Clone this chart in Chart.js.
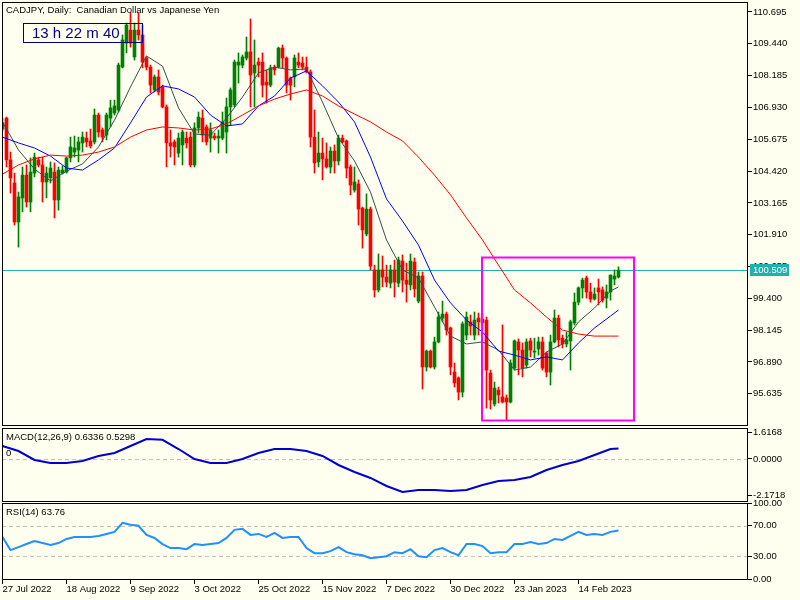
<!DOCTYPE html>
<html>
<head>
<meta charset="utf-8">
<title>CADJPY, Daily</title>
<script src="https://cdn.jsdelivr.net/npm/chart.js@4.4.1/dist/chart.umd.min.js"></script>
<style>
  html, body { margin: 0; padding: 0; background: #fffff0; }
  #wrap { position: relative; width: 800px; height: 600px; overflow: hidden; background: #fffff0; }
  #wrap canvas { position: absolute; left: 0; top: 0; }
  .txt { position: absolute; font: 9.5px "Liberation Sans", Arial, sans-serif; color: #000; white-space: pre; line-height: 12px; }
  #timer { position: absolute; left: 23px; top: 23px; width: 120px; height: 20px; box-sizing: border-box; border: 1px solid #000080; color: #000080; font: 15px "Liberation Sans", Arial, sans-serif; line-height: 18px; padding-left: 8px; white-space: pre; }
</style>
</head>
<body>
<div id="wrap">
  <canvas id="price" width="800" height="600"></canvas>
  <canvas id="macd" width="800" height="600"></canvas>
  <canvas id="rsi" width="800" height="600"></canvas>
  <div class="txt" style="left:6px;top:4px">CADJPY, Daily:  Canadian Dollar vs Japanese Yen</div>
  <div id="timer">13 h 22 m 40</div>
  <div class="txt" style="left:6px;top:431px">MACD(12,26,9) 0.6336 0.5298</div>
  <div class="txt" style="left:6px;top:447px">0</div>
  <div class="txt" style="left:6px;top:506px">RSI(14) 63.76</div>
</div>
<script>
// daily candles, bar 0 = 27 Jul 2022
const opens = [
  106.08, 106.51, 104.86, 103.95, 102.41, 103.36, 104.26, 103.20, 104.34, 104.86,
  104.66, 103.99, 104.15, 104.38, 103.28, 104.34, 104.38, 104.94, 105.17, 105.25,
  105.53, 105.72, 105.61, 105.57, 106.63, 106.04, 105.84, 106.51, 106.71, 106.83,
  108.52, 109.47, 109.98, 108.92, 109.98, 109.79, 108.88, 108.52, 107.62, 108.13,
  107.74, 106.95, 105.53, 105.57, 105.13, 105.45, 105.72, 105.76, 104.66, 106.12,
  106.51, 106.16, 105.72, 105.80, 105.72, 105.72, 105.96, 106.95, 107.03, 108.60,
  108.60, 108.88, 109.12, 108.29, 108.72, 108.72, 107.93, 107.81, 108.52, 108.52,
  109.27, 108.88, 108.09, 108.13, 108.72, 108.68, 108.52, 108.33, 105.76, 104.78,
  105.13, 104.90, 104.58, 105.21, 104.82, 105.72, 105.61, 104.58, 103.67, 103.91,
  102.96, 101.94, 102.92, 100.52, 99.73, 100.52, 100.24, 100.00, 100.52, 100.00,
  100.87, 100.12, 99.93, 100.83, 99.29, 100.28, 96.69, 97.32, 96.69, 97.68,
  98.62, 98.78, 98.23, 96.49, 96.26, 95.70, 97.95, 98.47, 97.95, 98.62,
  98.43, 98.54, 96.45, 95.23, 95.78, 95.51, 95.47, 95.31, 96.65, 97.68,
  97.36, 96.77, 97.72, 97.28, 97.40, 97.68, 97.24, 96.49, 97.68, 98.62,
  97.83, 97.60, 97.72, 98.43, 99.25, 99.81, 100.20, 99.65, 99.37, 99.81,
  99.73, 99.41, 99.65, 100.16, 100.24
];
const highs = [
  106.51, 106.55, 105.17, 104.34, 103.59, 104.58, 104.66, 104.94, 105.13, 104.97,
  104.97, 104.58, 104.78, 104.74, 104.58, 104.62, 104.97, 105.76, 105.80, 105.76,
  105.96, 105.96, 106.08, 106.87, 106.71, 106.12, 106.71, 107.22, 107.22, 108.68,
  109.79, 110.26, 110.66, 110.26, 110.66, 110.18, 108.92, 108.60, 108.21, 108.41,
  107.81, 107.03, 106.04, 105.65, 105.92, 106.04, 105.96, 105.96, 106.32, 106.75,
  106.83, 106.24, 106.32, 105.92, 106.04, 106.75, 107.30, 107.70, 108.80, 109.08,
  109.00, 109.71, 110.42, 109.59, 108.88, 109.08, 108.41, 108.60, 108.60, 109.31,
  109.39, 108.92, 108.13, 109.00, 109.08, 108.92, 108.92, 108.41, 106.83, 105.96,
  105.72, 105.53, 105.37, 105.45, 105.84, 105.84, 105.65, 104.66, 104.58, 104.07,
  103.00, 103.52, 103.00, 100.71, 101.15, 101.07, 100.71, 100.71, 100.91, 101.03,
  101.11, 100.79, 101.15, 100.99, 100.44, 100.44, 97.36, 97.36, 97.87, 98.86,
  99.29, 98.86, 98.27, 96.85, 96.30, 98.47, 98.86, 98.74, 98.86, 98.82,
  98.78, 98.66, 96.57, 96.10, 95.90, 98.35, 95.59, 96.97, 97.76, 97.80,
  97.64, 97.80, 97.83, 97.83, 97.87, 97.87, 97.28, 97.95, 98.94, 98.74,
  97.95, 98.07, 98.54, 99.61, 99.85, 100.20, 100.28, 100.00, 99.81, 100.16,
  99.85, 99.93, 100.32, 100.52, 100.64
];
const lows = [
  106.00, 104.58, 103.55, 102.29, 101.42, 102.81, 103.00, 102.81, 104.19, 104.58,
  103.20, 103.36, 103.95, 102.57, 102.88, 104.30, 104.34, 104.78, 104.97, 104.78,
  105.17, 105.37, 105.33, 105.49, 105.76, 105.57, 105.65, 106.16, 106.63, 106.75,
  108.49, 109.08, 109.31, 108.80, 109.59, 108.49, 108.41, 107.50, 107.54, 107.42,
  106.91, 104.58, 104.97, 104.66, 104.97, 104.66, 105.33, 104.58, 104.58, 105.92,
  105.57, 105.45, 105.17, 105.65, 105.13, 105.65, 105.13, 106.24, 106.95, 107.89,
  108.49, 108.80, 106.95, 106.95, 108.13, 107.34, 107.10, 107.74, 108.21, 108.49,
  108.49, 107.50, 107.22, 107.74, 108.49, 108.41, 108.29, 105.37, 104.34, 104.58,
  104.07, 104.54, 104.34, 104.34, 104.66, 105.53, 104.15, 103.48, 103.59, 102.29,
  101.38, 101.86, 100.52, 99.45, 99.65, 99.85, 99.85, 99.81, 99.45, 99.85,
  99.65, 99.25, 99.73, 99.45, 99.22, 95.82, 96.53, 96.65, 96.61, 97.64,
  98.47, 97.95, 96.38, 95.90, 95.39, 95.51, 97.76, 97.95, 97.76, 97.95,
  98.15, 95.07, 95.03, 95.15, 95.27, 95.27, 94.60, 95.27, 96.57, 96.38,
  96.30, 96.65, 97.09, 97.05, 97.16, 96.57, 96.30, 95.98, 97.64, 97.48,
  97.44, 97.48, 96.57, 98.35, 99.14, 99.41, 99.41, 99.25, 99.33, 99.14,
  99.25, 99.02, 99.33, 99.93, 100.20
];
const closes = [
  106.32, 104.86, 104.15, 102.41, 103.40, 104.26, 103.20, 104.38, 104.97, 104.66,
  103.99, 104.34, 104.54, 103.28, 104.46, 104.46, 104.94, 105.37, 105.33, 105.57,
  105.76, 105.57, 105.41, 106.63, 105.96, 105.76, 106.63, 106.91, 106.99, 108.60,
  109.59, 110.18, 109.47, 109.98, 109.79, 108.72, 108.52, 107.81, 108.13, 107.54,
  106.95, 105.53, 105.41, 105.37, 105.72, 105.96, 105.53, 104.66, 106.12, 106.55,
  105.84, 105.57, 106.04, 105.72, 105.80, 106.36, 106.95, 107.62, 108.72, 108.72,
  108.92, 109.12, 108.21, 108.60, 108.60, 107.81, 107.81, 108.49, 108.41, 109.27,
  108.88, 107.81, 107.81, 108.88, 108.60, 108.52, 108.33, 105.76, 104.74, 105.13,
  104.90, 104.58, 105.21, 104.82, 105.72, 105.57, 104.54, 103.87, 103.99, 102.92,
  102.10, 102.92, 100.67, 99.73, 100.52, 100.24, 100.04, 100.52, 100.04, 100.91,
  100.12, 99.96, 100.87, 99.77, 100.28, 96.69, 97.32, 96.69, 97.68, 98.66,
  98.78, 98.15, 96.69, 96.06, 95.70, 98.39, 98.66, 98.31, 98.54, 98.47,
  98.58, 96.57, 95.39, 95.86, 95.59, 95.31, 95.31, 96.85, 97.72, 97.36,
  96.65, 97.68, 97.36, 97.32, 97.68, 96.65, 96.49, 97.68, 98.62, 97.76,
  97.60, 97.76, 98.47, 99.25, 99.81, 100.12, 99.65, 99.37, 99.57, 99.65,
  99.33, 99.65, 100.32, 100.28, 100.509
];

// moving averages and MACD, read every 4 bars
const maBars = [0, 4, 8, 12, 16, 20, 24, 28, 32, 36, 40, 44, 48, 52, 56, 60, 64, 68, 72, 76,
  80, 84, 88, 92, 96, 100, 104, 108, 112, 116, 120, 124, 128, 132, 136, 140, 144, 148, 152, 154];
const maFast = [106.36, 105.25, 104.50, 104.03, 104.42, 104.70, 105.37, 106.43, 107.74, 108.96,
  108.56, 106.91, 105.88, 105.84, 106.51, 107.34, 108.29, 108.52, 108.41, 108.45,
  107.14, 105.72, 104.82, 103.59, 101.70, 100.52, 100.20, 99.06, 97.91, 97.60,
  97.68, 97.36, 96.57, 96.69, 97.28, 97.60, 98.47, 99.02, 99.69, 99.85];
const maMid = [105.76, 105.53, 105.33, 105.01, 104.54, 104.46, 104.86, 105.33, 106.32, 107.34,
  107.78, 107.66, 107.34, 106.63, 106.20, 106.28, 106.99, 107.38, 108.09, 108.37,
  107.78, 107.14, 106.36, 104.97, 103.32, 102.45, 101.50, 100.12, 99.22, 98.54,
  98.07, 97.32, 97.16, 96.97, 97.09, 96.97, 97.64, 98.23, 98.70, 98.94];
const maSlow = [104.30, 104.66, 104.90, 105.05, 105.01, 105.05, 105.17, 105.37, 105.76, 106.04,
  106.16, 106.12, 106.04, 106.08, 106.28, 106.63, 106.99, 107.26, 107.46, 107.62,
  107.38, 106.99, 106.67, 106.36, 105.96, 105.61, 104.97, 104.26, 103.48, 102.57,
  101.70, 100.71, 99.73, 99.22, 98.66, 98.15, 97.99, 97.91, 97.91, 97.91];
const macdMain = [0.78, 0.48, -0.06, -0.24, -0.24, -0.12, 0.18, 0.36, 0.78, 1.20,
  1.15, 0.60, 0.00, -0.24, -0.24, 0.00, 0.36, 0.60, 0.60, 0.48,
  0.18, -0.36, -0.78, -1.14, -1.62, -1.98, -1.86, -1.86, -1.92, -1.86,
  -1.56, -1.32, -1.26, -1.08, -0.66, -0.36, -0.12, 0.24, 0.60, 0.6336];

// RSI(14), read every 2 bars
const rsiBars = [0, 2, 4, 6, 8, 10, 12, 14, 16, 18, 20, 22, 24, 26, 28, 30, 32, 34, 36, 38,
  40, 42, 44, 46, 48, 50, 52, 54, 56, 58, 60, 62, 64, 66, 68, 70, 72, 74, 76, 78,
  80, 82, 84, 86, 88, 90, 92, 94, 96, 98, 100, 102, 104, 106, 108, 110, 112, 114, 116, 118,
  120, 122, 124, 126, 128, 130, 132, 134, 136, 138, 140, 142, 144, 146, 148, 150, 152, 154];
const rsiValues = [55.3, 38.0, 42.0, 46.0, 50.0, 47.3, 44.7, 47.3, 52.7, 55.3,
  55.3, 55.3, 56.7, 59.3, 62.0, 74.0, 71.3, 70.0, 58.0, 54.0,
  46.0, 40.7, 40.7, 39.3, 46.0, 44.7, 46.0, 47.3, 54.0, 64.7,
  66.0, 58.0, 59.3, 55.3, 60.7, 54.0, 55.3, 55.3, 40.7, 34.0,
  34.0, 36.7, 42.0, 35.3, 32.7, 31.3, 27.3, 28.7, 30.0, 35.3,
  34.0, 39.3, 30.0, 28.7, 38.0, 40.7, 35.3, 31.3, 46.0, 46.0,
  43.3, 34.0, 35.3, 35.3, 46.0, 46.0, 48.7, 46.0, 47.3, 52.7,
  51.3, 56.7, 62.0, 58.0, 59.3, 58.0, 62.0, 63.76];

const dateBars = [0, 16, 32, 48, 64, 80, 96, 112, 128, 144];
const dateLabels = ['27 Jul 2022', '18 Aug 2022', '9 Sep 2022', '3 Oct 2022', '25 Oct 2022',
  '15 Nov 2022', '7 Dec 2022', '30 Dec 2022', '23 Jan 2023', '14 Feb 2023'];
const priceTicks = [110.695, 109.440, 108.185, 106.930, 105.675, 104.420, 103.165,
  101.910, 100.655, 99.400, 98.145, 96.890, 95.635];
const macdTicks = [1.6168, 0, -2.1718];
const rsiTicks = [100, 70, 30, 0];
const bidPrice = 100.509;

const UP = '#008000';
const DOWN = '#ff0000';
const FONT = '"Liberation Sans", Arial, sans-serif';

Chart.defaults.font.family = FONT;
Chart.defaults.font.size = 9.5;
Chart.defaults.color = '#000';

const xMin = -0.125, xMax = 186.125;

function pts(xs, ys) {
  return xs.map((x, k) => ({ x: x, y: ys[k] }));
}

function xAxis(show) {
  const ax = { type: 'linear', min: xMin, max: xMax, offset: false, display: show };
  if (show) {
    Object.assign(ax, {
      position: 'bottom',
      afterBuildTicks: s => { s.ticks = dateBars.map(v => ({ value: v })); },
      afterFit: s => { s.height = 21; s.paddingLeft = 0; s.paddingRight = 0; },
      grid: { drawOnChartArea: false, drawTicks: true, tickLength: 5, tickColor: '#000', offset: false },
      border: { display: false },
      ticks: { autoSkip: false, maxRotation: 0, minRotation: 0, align: 'start', padding: 0, color: '#000',
        callback: (v, idx) => dateLabels[idx] }
    });
  }
  return ax;
}

function rightAxis(min, max, ticks, digits) {
  return {
    position: 'right',
    min: min,
    max: max,
    afterBuildTicks: s => { s.ticks = ticks.map(v => ({ value: v })); },
    afterFit: s => { s.width = 53; s.paddingTop = 0; s.paddingBottom = 0; },
    grid: { drawOnChartArea: false, drawTicks: true, tickLength: 5, tickColor: '#000' },
    border: { display: false },
    ticks: { padding: 1, color: '#000', callback: v => Number(v).toFixed(digits) }
  };
}

const frame = {
  id: 'frame',
  afterDraw(chart) {
    const { ctx, chartArea: a } = chart;
    ctx.save();
    ctx.strokeStyle = '#000';
    ctx.lineWidth = 1;
    ctx.strokeRect(a.left + 0.5, a.top + 0.5, a.right - a.left, a.bottom - a.top);
    ctx.restore();
  }
};

const levels = {
  id: 'levels',
  beforeDatasetsDraw(chart, args, opts) {
    if (!opts.values) return;
    const { ctx, chartArea: a, scales: { y } } = chart;
    ctx.save();
    ctx.strokeStyle = '#c0c0c0';
    ctx.lineWidth = 1;
    ctx.setLineDash([4, 3]);
    opts.values.forEach(v => {
      const py = Math.round(y.getPixelForValue(v)) + 0.5;
      ctx.beginPath();
      ctx.moveTo(a.left, py);
      ctx.lineTo(a.right, py);
      ctx.stroke();
    });
    ctx.restore();
  }
};

const bidLine = {
  id: 'bidLine',
  beforeDatasetsDraw(chart) {
    const { ctx, chartArea: a, scales: { y } } = chart;
    const py = Math.round(y.getPixelForValue(bidPrice)) + 0.5;
    ctx.save();
    ctx.strokeStyle = '#20b2aa';
    ctx.lineWidth = 1;
    ctx.beginPath();
    ctx.moveTo(a.left, py);
    ctx.lineTo(a.right, py);
    ctx.stroke();
    ctx.restore();
  },
  afterDraw(chart) {
    const { ctx, chartArea: a, scales: { y } } = chart;
    const py = Math.round(y.getPixelForValue(bidPrice));
    ctx.save();
    ctx.fillStyle = '#20b2aa';
    ctx.fillRect(a.right + 3, py - 6, 39, 12);
    ctx.fillStyle = '#fff';
    ctx.font = '9.5px ' + FONT;
    ctx.textBaseline = 'middle';
    ctx.fillText(bidPrice.toFixed(3), a.right + 6, py + 0.5);
    ctx.restore();
  }
};

// magenta rectangle drawn on the chart, in bar / price units
const zone = { fromBar: 119.875, toBar: 157.875, high: 101.01, low: 94.58 };
const zoneBox = {
  id: 'zoneBox',
  afterDatasetsDraw(chart) {
    const { ctx, scales: { x, y } } = chart;
    const l = x.getPixelForValue(zone.fromBar), r = x.getPixelForValue(zone.toBar);
    const t = y.getPixelForValue(zone.high), b = y.getPixelForValue(zone.low);
    ctx.save();
    ctx.strokeStyle = '#ff00ff';
    ctx.lineWidth = 2;
    ctx.strokeRect(l, t, r - l, b - t);
    ctx.restore();
  }
};

const candleColors = closes.map((c, i) => c >= opens[i] ? UP : DOWN);
const wicks = highs.map((h, i) => ({ x: i, y: [lows[i], h] }));
const bodies = opens.map((o, i) => ({ x: i, y: [o, closes[i]] }));

const common = {
  responsive: false,
  animation: false,
  devicePixelRatio: 1,
  events: [],
  plugins: { legend: { display: false }, tooltip: { enabled: false } }
};

function lineSet(data, color, width) {
  return { type: 'line', data: data, borderColor: color, borderWidth: width, pointRadius: 0, tension: 0, order: 1 };
}

new Chart(document.getElementById('price'), {
  type: 'bar',
  data: {
    datasets: [
      lineSet(pts(maBars, maSlow), '#ff0000', 1),
      lineSet(pts(maBars, maMid), '#0000ff', 1),
      lineSet(pts(maBars, maFast), '#2f4f4f', 1),
      { type: 'bar', data: wicks, backgroundColor: candleColors, barThickness: 1, grouped: false, order: 2 },
      { type: 'bar', data: bodies, backgroundColor: candleColors, barThickness: 3, grouped: false, minBarLength: 1, order: 2 }
    ]
  },
  options: Object.assign({}, common, {
    layout: { padding: { left: 2, top: 2, right: 0, bottom: 175 } },
    scales: {
      x: xAxis(false),
      y: rightAxis(94.403, 111.089, priceTicks, 3)
    }
  }),
  plugins: [bidLine, zoneBox, frame]
});

new Chart(document.getElementById('macd'), {
  type: 'line',
  data: { datasets: [lineSet(pts(maBars, macdMain), '#0000cd', 2)] },
  options: Object.assign({}, common, {
    layout: { padding: { left: 2, top: 428, right: 0, bottom: 99 } },
    plugins: Object.assign({}, common.plugins, { levels: { values: [0] } }),
    scales: {
      x: xAxis(false),
      y: rightAxis(-2.523, 1.862, macdTicks, 4)
    }
  }),
  plugins: [levels, frame]
});

new Chart(document.getElementById('rsi'), {
  type: 'line',
  data: { datasets: [lineSet(pts(rsiBars, rsiValues), '#1e90ff', 2)] },
  options: Object.assign({}, common, {
    layout: { padding: { left: 2, top: 503, right: 0, bottom: 0 } },
    plugins: Object.assign({}, common.plugins, { levels: { values: [70, 30] } }),
    scales: {
      x: xAxis(true),
      y: rightAxis(0, 100, rsiTicks, 2)
    }
  }),
  plugins: [levels, frame]
});
</script>
</body>
</html>
